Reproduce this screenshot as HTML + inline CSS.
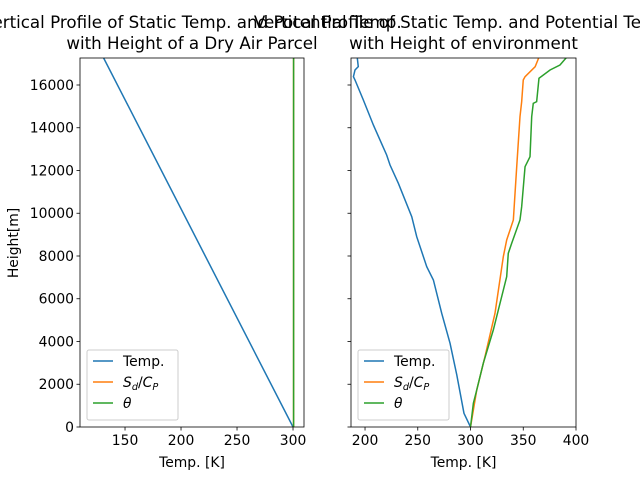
<!DOCTYPE html>
<html><head><meta charset="utf-8"><style>
body{margin:0;background:#fff;width:640px;height:480px;overflow:hidden}
svg{font-family:"DejaVu Sans","Liberation Sans",sans-serif}
</style></head><body>
<svg id="c" width="640" height="480"></svg>
<script>
const leftHeights=[0,17263];
const leftTemp=[300,130.9];
const leftSdCp=[300.5,300.5];
const leftTheta=[300.5,300.5];
const rTempH=[0,640,2433,3915,5318,6877,7500,8903,9839,11400,12257,12725,14129,15298,16234,16390,16702,16858,17250];
const rTemp=[300,293.8,287,280.6,272.7,264.8,258.5,249,244.3,231.6,223.7,220.5,207.9,198.4,190.5,189,190.5,193.6,192.7];
const rThetaH=[0,1108,1731,2980,4538,7032,8125,8593,9684,10306,12178,12646,14517,15143,15220,16312,16702,16936,17300];
const rTheta=[300,302.7,305.9,312.1,321.6,334.3,335.8,339,346.9,348.5,351.7,356.4,358,359.5,362.7,364.9,375.4,384.8,391.2];
const rSdH=[0,1731,3290,5318,7970,8749,9684,12178,14517,15220,16234,16390,16858,17250];
const rSd=[300,305.9,313.7,323.2,331.1,334.3,340.6,343.8,346.9,348.5,350,351.7,361.3,364.5];
const leftXTicks=[150,200,250,300];
const rightXTicks=[200,250,300,350,400];
const yTicks=[0,2000,4000,6000,8000,10000,12000,14000,16000];
const NS="http://www.w3.org/2000/svg";const svg=document.getElementById('c');
function mk(t,a,p){const e=document.createElementNS(NS,t);for(const k in a)e.setAttribute(k,a[k]);(p||svg).appendChild(e);return e;}
const Y0=427,Y1=58,HMAX=17263;
const ys=h=>Y0-(h/HMAX)*(Y0-Y1);
function panel(x0,x1,dmin,dmax,xt,showY,series,name,title){
 const g=mk('g',{});
 const xs=v=>x0+(v-dmin)/(dmax-dmin)*(x1-x0);
 const cp=mk('clipPath',{id:'cp'+name},g);mk('rect',{x:x0,y:Y1,width:x1-x0,height:Y0-Y1},cp);
 const cols=['#1f77b4','#ff7f0e','#2ca02c'];
 series.forEach((s,i)=>{const p=mk('polyline',{points:s[0].map((v,j)=>xs(v)+','+ys(s[1][j])).join(' '),fill:'none',stroke:cols[i],'stroke-width':1.5,'clip-path':'url(#cp'+name+')'},g);
  });
 mk('rect',{x:x0,y:Y1,width:x1-x0,height:Y0-Y1,fill:'none',stroke:'#000','stroke-width':0.8},g);
 xt.forEach(v=>{const x=xs(v);mk('line',{x1:x,x2:x,y1:Y0,y2:Y0+3.5,stroke:'#000','stroke-width':0.8},g);
  const t=mk('text',{x:x,y:Y0+18,'font-size':13.9,'text-anchor':'middle'},g);t.textContent=v;});
 yTicks.forEach(v=>{const y=ys(v);mk('line',{x1:x0-3.5,x2:x0,y1:y,y2:y,stroke:'#000','stroke-width':0.8},g);
  if(showY){const t=mk('text',{x:x0-6,y:y+5,'font-size':13.9,'text-anchor':'end'},g);t.textContent=v;}});
 const xl=mk('text',{x:(x0+x1)/2,y:467,'font-size':13.9,'text-anchor':'middle'},g);xl.textContent='Temp. [K]';
 
 const tt=mk('text',{x:(x0+x1)/2,'font-size':16.7,'text-anchor':'middle'},g);
 
 const a=mk('tspan',{x:(x0+x1)/2,y:28},tt);a.textContent=title[0];const b=mk('tspan',{x:(x0+x1)/2,y:49},tt);b.textContent=title[1];
 const lg=mk('g',{},g);
 const lx=x0+7;mk('rect',{x:lx,y:350,width:91,height:70,fill:'#fff',stroke:'#ccc',rx:2},lg);
 [0,1,2].forEach(i=>{const y=361+i*21;mk('line',{x1:lx+6,x2:lx+26,y1:y,y2:y,stroke:cols[i],'stroke-width':1.5},lg);
  const t=mk('text',{x:lx+36,y:y+5,'font-size':13.9},lg);
  t.innerHTML=i==0?'Temp.':i==1?'<tspan font-style="italic">S</tspan><tspan font-size="9.7" dy="3" font-style="italic">d</tspan><tspan dy="-3">/</tspan><tspan font-style="italic">C</tspan><tspan font-size="9.7" dy="3" font-style="italic">P</tspan>':'<tspan font-style="italic">θ</tspan>';
  });
}
panel(80,304,109.8,309.8,leftXTicks,true,[[leftTemp,leftHeights],[leftSdCp,leftHeights],[leftTheta,leftHeights]],'left-panel',['Vertical Profile of Static Temp. and Potential Temp.','with Height of a Dry Air Parcel']);
panel(351,576,186.7,400,rightXTicks,false,[[rTemp,rTempH],[rSd,rSdH],[rTheta,rThetaH]],'right-panel',['Vertical Profile of Static Temp. and Potential Temp.','with Height of environment']);
const yl=mk('text',{x:18,y:243,'font-size':13.9,'text-anchor':'middle',transform:'rotate(-90 18 243)'});yl.textContent='Height[m]';

</script></body></html>
